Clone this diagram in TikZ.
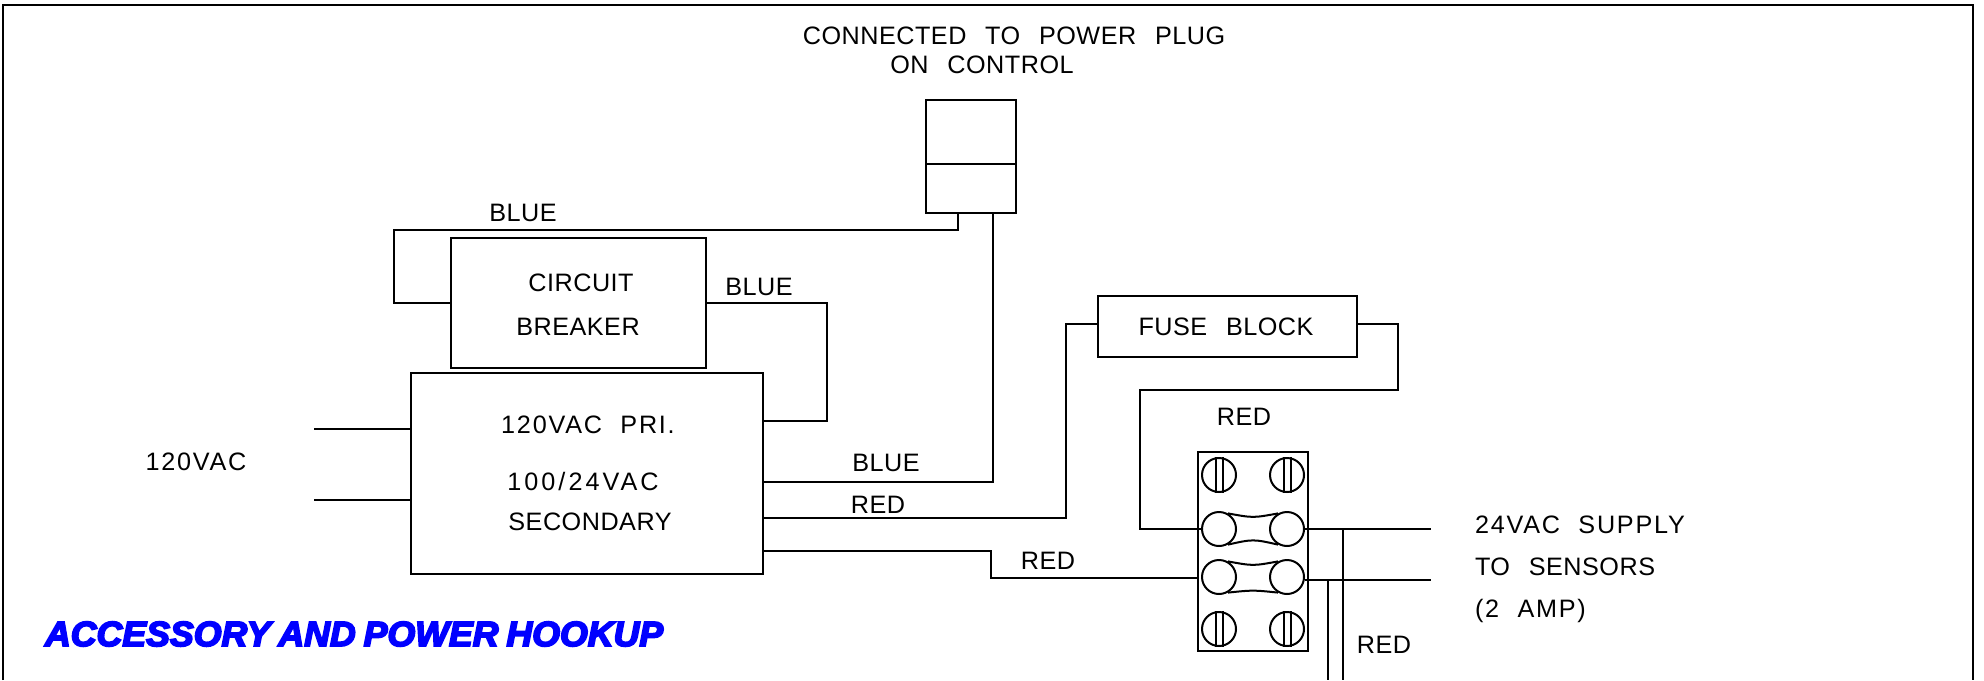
\documentclass[tikz,border=0pt]{standalone}
\usepackage{fontspec}
\usetikzlibrary{positioning}
\setmainfont{Liberation Sans}
\newfontfamily\cadfont[LetterSpace=2,WordSpace=2.5]{Liberation Sans}
\newfontfamily\cadwidefont[LetterSpace=7,WordSpace=2.1]{Liberation Sans}
\newfontfamily\titlefont[FakeBold=5,FakeStretch=1.02,WordSpace=0.8]{Liberation Sans Bold Italic}

\begin{document}
\begin{tikzpicture}[x=0.5pt,y=-0.5pt,line width=1pt,
  box/.style={draw,inner sep=0pt,fill=white},
  lbl/.style={font=\cadfont\fontsize{12.6}{12.6}\selectfont,inner sep=0pt},
  lblw/.style={font=\cadwidefont\fontsize{12.6}{12.6}\selectfont,inner sep=0pt},
  screw/.style={circle,draw,inner sep=0pt,minimum size=17pt},
  title/.style={font=\titlefont\fontsize{17.5}{17.5}\selectfont,text=blue,inner sep=0pt}]
  \useasboundingbox (0,0) rectangle (1984,680);
  \draw[line width=1.25pt] (3,680) -- (3,5) -- (1973,5) -- (1973,680);

  % boxes
  \node[box,minimum width=45pt,minimum height=56.5pt] (plug) at (971,156.5) {};
  \node[box,minimum width=127.5pt,minimum height=65pt] (breaker) at (578.5,303) {};
  \node[box,minimum width=176pt,minimum height=100.5pt] (trafo) at (587,473.8) {};
  \node[box,minimum width=129.5pt,minimum height=30.5pt] (fuse) at (1227.5,326.5) {};
  \node[box,minimum width=55pt,minimum height=99.5pt] (block) at (1253,551.5) {};
  \draw (plug.west |- 0,164) coordinate (pm) -- (plug.east |- pm);

  % terminals
  \node[screw] (s1) at (1219,475) {};
  \node[screw] (s2) at (1287,475) {};
  \node[screw] (s3) at (1219,529) {};
  \node[screw] (s4) at (1287,529) {};
  \node[screw] (s5) at (1219,577) {};
  \node[screw] (s6) at (1287,577) {};
  \node[screw] (s7) at (1219,629) {};
  \node[screw] (s8) at (1287,629) {};
  \foreach \n in {s1,s2,s7,s8}{
    \draw ([xshift=-1.75pt]\n.north) -- ([xshift=-1.75pt]\n.south);
    \draw ([xshift=1.75pt]\n.north) -- ([xshift=1.75pt]\n.south);
  }
  \draw (s3.60) .. controls (1253,518) .. (s4.120);
  \draw (s3.-60) .. controls (1253,539) .. (s4.-120);
  \draw (s5.60) .. controls (1253,566) .. (s6.120);
  \draw (s5.-60) .. controls (1253,590) .. (s6.-120);

  % free ends
  \coordinate (in1) at (314,429);
  \coordinate (in2) at (314,500);
  \coordinate (out1) at (1431,529);
  \coordinate (out2) at (1431,580);
  \coordinate (down1) at (1343,680);
  \coordinate (down2) at (1328,680);

  % wiring
  \draw (958,213) -- (958,230) -- (394,230) |- (breaker.west);
  \draw (breaker.east) -- (827,303) -- (827,421) -- (trafo.east |- 0,421);
  \draw (in1) -- (trafo.west |- in1);
  \draw (in2) -- (trafo.west |- in2);
  \draw (trafo.east |- 0,482) -- (993,482) -- (993,213);
  \draw (trafo.east |- 0,518) -- (1066,518) -- (1066,324) -- (fuse.west |- 0,324);
  \draw (fuse.east |- 0,324) -- (1398,324) -- (1398,390) -- (1140,390) |- (s3.west);
  \draw (trafo.east |- 0,551) -- (991,551) |- (block.west |- 0,578);
  \draw (s4.east) -- (out1);
  \draw (out2 -| s6.east) -- (out2);
  \draw (1343,529) -- (down1);
  \draw (1328,580) -- (down2);

  % labels
  \node[lbl] (conn) at (1014,36) {CONNECTED TO POWER PLUG};
  \node[lbl] (onc) at (982,65) {ON CONTROL};
  \node[lbl] (cb1) at (581,283) {CIRCUIT};
  \node[lbl] (cb2) at (578,327) {BREAKER};
  \node[lbl] (bl1) at (523,213) {BLUE};
  \node[lbl] (bl2) at (759,287) {BLUE};
  \node[lbl] (fb) at (1226,327) {FUSE BLOCK};
  \node[lbl] (r1) at (1244,417) {RED};
  \node[lblw] (tr1) at (588,425) {120VAC PRI.};
  \node[lblw] (tr2) at (583,481) {\addfontfeatures{LetterSpace=12}100/24VAC};
  \node[lbl] (tr3) at (590,522) {SECONDARY};
  \node[lblw] (vac) at (196,462) {120VAC};
  \node[lbl] (bl3) at (886,463) {BLUE};
  \node[lbl] (r2) at (878,505) {RED};
  \node[lbl] (r3) at (1048,561) {RED};
  \node[lblw,anchor=west] (sup1) at (1474,525) {24VAC SUPPLY};
  \node[lbl,anchor=west] (sup2) at (1474,567) {TO SENSORS};
  \node[lblw,anchor=west] (sup3) at (1474,611) {(2 AMP)};
  \node[lbl] (r4) at (1384,645) {RED};
  \node[title,anchor=west] (head) at (44,634) {ACCESSORY AND POWER HOOKUP};
\end{tikzpicture}
\end{document}
